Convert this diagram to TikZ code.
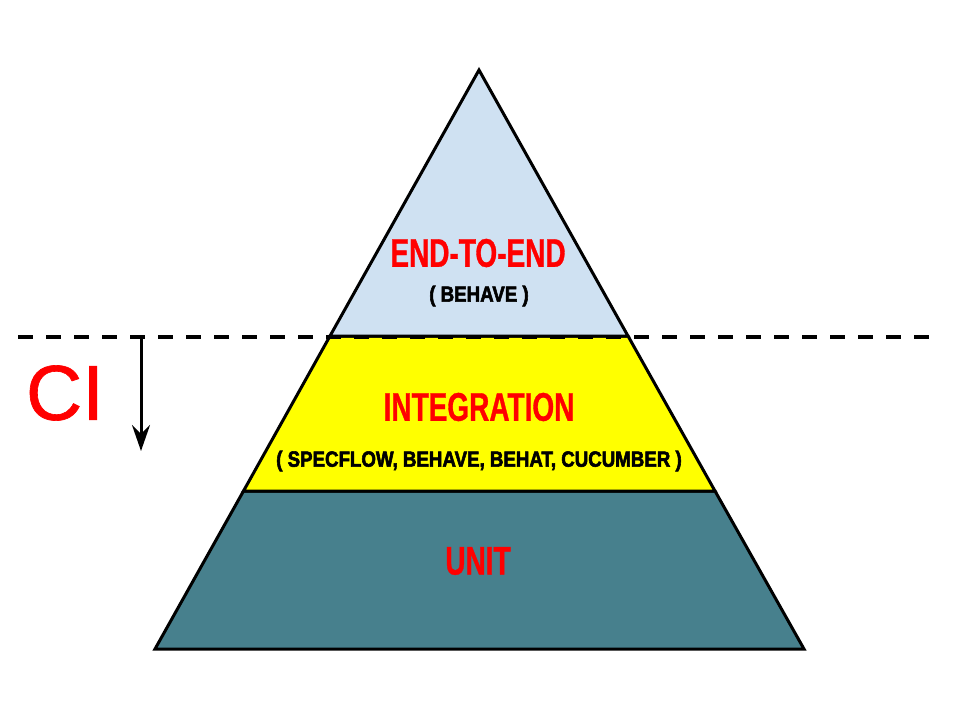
\documentclass[tikz,border=0pt]{standalone}
\usepackage{fontspec}
\setmainfont{Liberation Sans}
\newfontfamily\condb{Liberation Sans}[FakeStretch=0.70,FakeBold=0.8]
\newfontfamily\condsmall{Liberation Sans}[FakeStretch=0.85,FakeBold=2.5]
\newfontfamily\cifont{Liberation Sans}[FakeBold=0.8]
\usetikzlibrary{arrows.meta}
\definecolor{topblue}{RGB}{207,225,242}
\definecolor{midyellow}{RGB}{255,255,0}
\definecolor{botteal}{RGB}{71,128,141}
\definecolor{lblred}{RGB}{255,0,0}
\tikzset{
  band/.style={draw=black, line width=3pt, line join=miter},
  bigtitle/.style={text=lblred, font=\condb\bfseries\fontsize{40}{40}\selectfont, inner sep=0pt, anchor=center},
  subtitle/.style={text=black, font=\condsmall\bfseries\fontsize{22}{22}\selectfont, inner sep=0pt, anchor=center},
  cutline/.style={draw=black, line width=3.4pt, dash pattern=on 15pt off 13pt},
  ciarrow/.style={draw=black, line width=3pt, -{Stealth[length=26pt,width=18pt,inset=9pt]}}
}
\begin{document}
\begin{tikzpicture}[x=1pt,y=-1pt]
\useasboundingbox (0,0) rectangle (960,720);
% pyramid corners
\coordinate (apex) at (479,70);
\coordinate (bl) at (155,649);
\coordinate (br) at (804,649);
\coordinate (l1) at (330,336);
\coordinate (r1) at (628,336);
\coordinate (l2) at (243.5,491);
\coordinate (r2) at (715,491);
% bands
\filldraw[band, fill=botteal] (l2) -- (r2) -- (br) -- (bl) -- cycle;
\filldraw[band, fill=midyellow] (l1) -- (r1) -- (r2) -- (l2) -- cycle;
\filldraw[band, fill=topblue] (apex) -- (r1) -- (l1) -- cycle;
% texts
\node[bigtitle] (e2e) at (478,253) {END-TO-END};
\node[subtitle] (behave) at (479,296) {( BEHAVE )};
\node[bigtitle] (integ) at (479,407) {INTEGRATION};
\node[subtitle] (tools) at (479,461) {( SPECFLOW, BEHAVE, BEHAT, CUCUMBER )};
\node[bigtitle] (unit) at (478,561) {UNIT};
% dashed line and CI
\coordinate (dl) at (18,337);
\coordinate (dr) at (930,337);
\draw[cutline] (dl) -- (dr);
\coordinate (as) at (141,337);
\coordinate (ae) at (141,451);
\draw[ciarrow] (as) -- (ae);
\node[text=lblred, font=\cifont\fontsize{78}{78}\selectfont, inner sep=0pt, anchor=center] (ci) at (65,393) {CI};
\end{tikzpicture}
\end{document}
